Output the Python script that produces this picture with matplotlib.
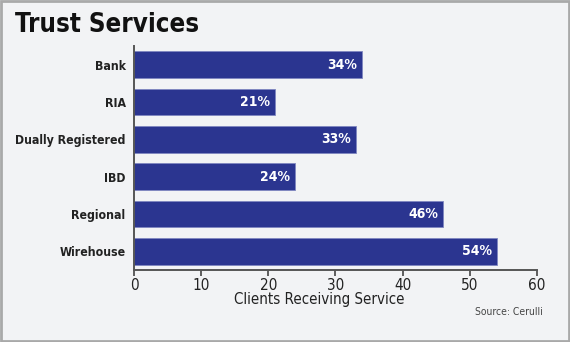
import matplotlib.pyplot as plt
from matplotlib.patches import Rectangle
from matplotlib import font_manager

# data
categories = ['Bank', 'RIA', 'Dually Registered', 'IBD', 'Regional', 'Wirehouse']
values = [34, 21, 33, 24, 46, 54]
xticks = [0, 10, 20, 30, 40, 50, 60]

# look for a narrow font, else fall back to Liberation Sans
fonts = font_manager.fontManager.ttflist
narrow = [f for f in fonts if 'condensed' in str(f.stretch).lower() or 'narrow' in f.name.lower()
          or 'condensed' in f.name.lower()]
names = {f.name for f in fonts}
if narrow:
    fam = narrow[0].name
    plt.rcParams['font.stretch'] = narrow[0].stretch
    condensed = True
else:
    fam = 'Liberation Sans' if 'Liberation Sans' in names else 'DejaVu Sans'
    condensed = False
plt.rcParams['font.family'] = [fam, 'DejaVu Sans']
k = 1.0 if condensed else 0.85

bg = '#f2f3f5'
bar_color = '#2b3590'

fig = plt.figure(figsize=(5.7, 3.42), dpi=100, facecolor=bg)
ax = fig.add_axes([0.235, 0.2105, 0.707, 0.655])
ax.set_facecolor(bg)

# outer frame
fig.patches.append(Rectangle((0.002, 0.003), 0.996, 0.994, transform=fig.transFigure,
                             fill=False, edgecolor='#a9a9a9', linewidth=2))

y = list(range(len(categories)))
ax.barh(y, values, height=0.72, color=bar_color, edgecolor='#7f86c0', linewidth=0.6)
for yi, v in zip(y, values):
    ax.text(v - 0.75, yi, f'{v}%', color='white', fontsize=10 * k, fontweight='bold',
            ha='right', va='center')

ax.set_ylim(5.5, -0.5)
ax.set_xlim(0, 60)
ax.set_yticks(y)
ax.set_yticklabels(categories, fontsize=8.8 * k, fontweight='bold', color='#222222')
ax.set_xticks(xticks)
ax.set_xticklabels([str(t) for t in xticks], fontsize=11 * k, color='#222222')
ax.tick_params(axis='y', length=0, pad=6)
ax.tick_params(axis='x', length=4, width=1.2, color='#444444', pad=2)
for s in ['top', 'right']:
    ax.spines[s].set_visible(False)
for s in ['left', 'bottom']:
    ax.spines[s].set_color('#555555')
    ax.spines[s].set_linewidth(1.4)
ax.set_xlabel('Clients Receiving Service', fontsize=10.8 * k, color='#222222', labelpad=0)
ax.xaxis.set_label_coords(0.46, -0.1)

fig.text(0.027, 0.905, 'Trust Services', fontsize=18.5 * k, fontweight='bold', color='#111111')
fig.text(0.953, 0.08, 'Source: Cerulli', fontsize=7.4 * k, color='#444444', ha='right')

fig.savefig('out.png', dpi=100, facecolor=bg)
